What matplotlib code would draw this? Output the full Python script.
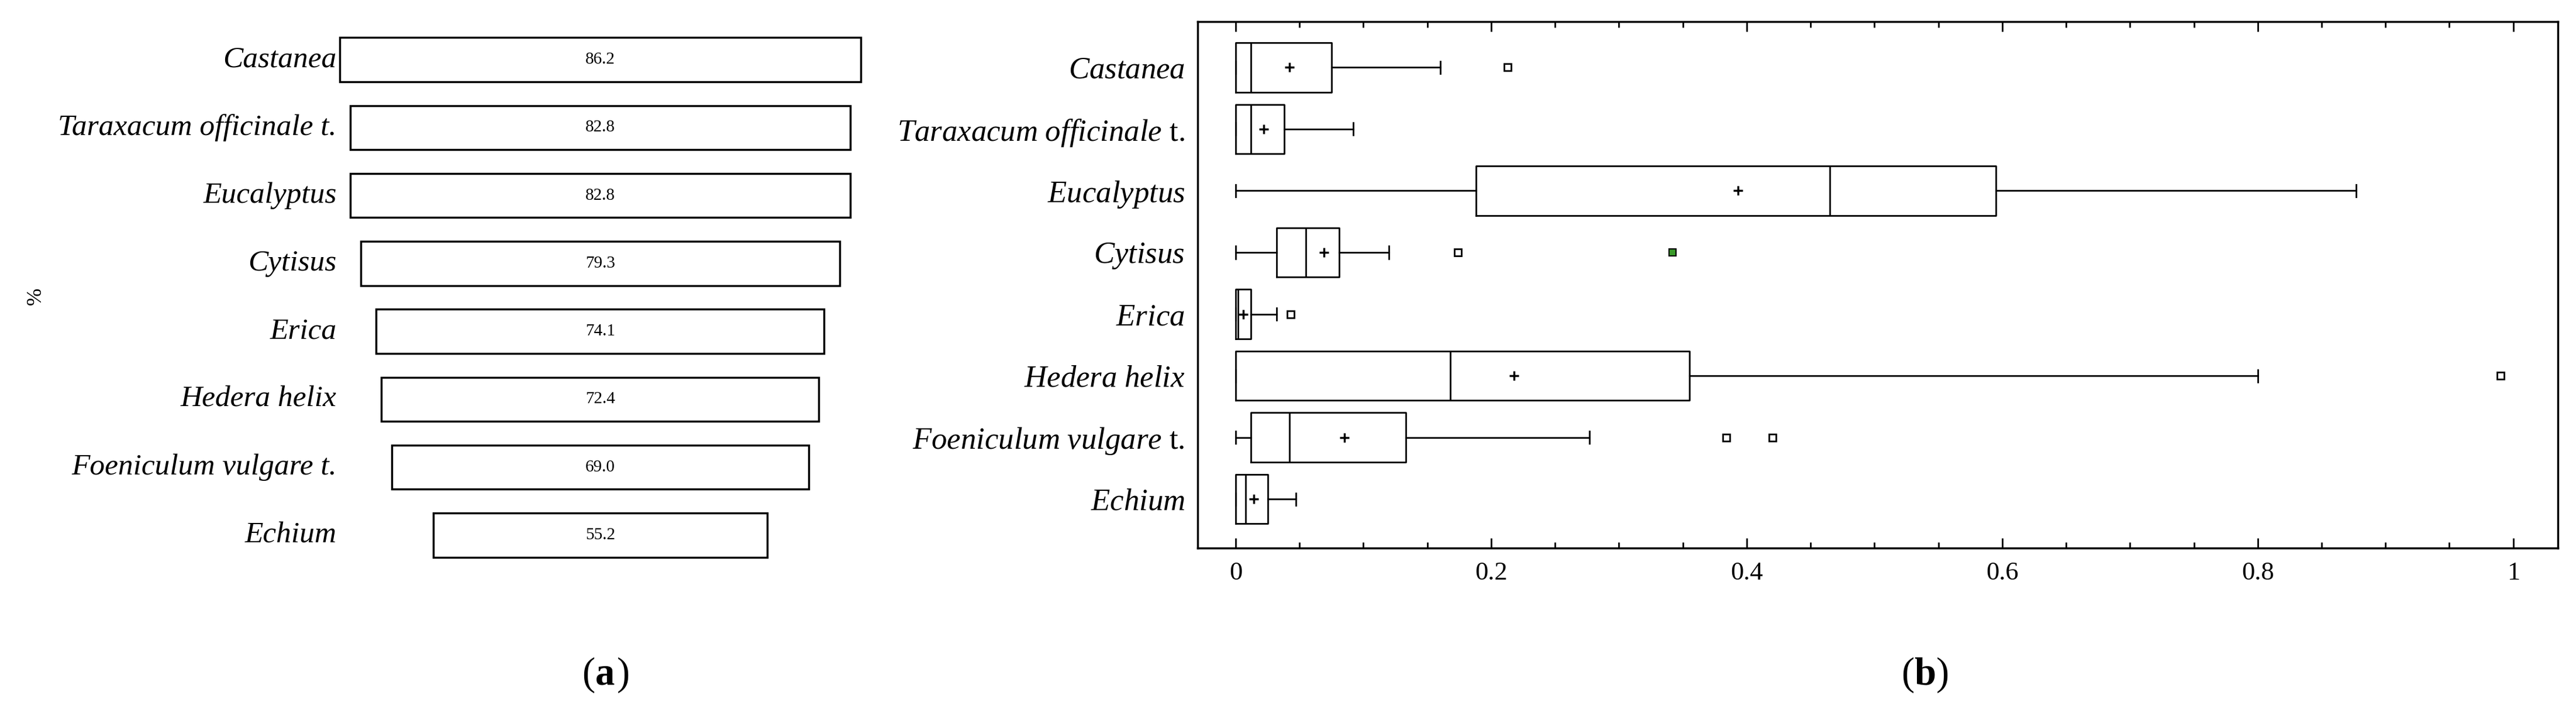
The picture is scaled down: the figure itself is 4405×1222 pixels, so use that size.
import matplotlib as mpl
mpl.use('Agg')
import matplotlib.pyplot as plt
from matplotlib.ticker import MultipleLocator

plt.rcParams['font.family'] = 'Liberation Serif'
plt.rcParams['mathtext.fontset'] = 'custom'
plt.rcParams['mathtext.it'] = 'Liberation Serif:italic'
plt.rcParams['mathtext.rm'] = 'Liberation Serif'

# panel (a): percentage of samples
taxa_a = ['Castanea', 'Taraxacum officinale t.', 'Eucalyptus', 'Cytisus',
          'Erica', 'Hedera helix', 'Foeniculum vulgare t.', 'Echium']
pct = [86.2, 82.8, 82.8, 79.3, 74.1, 72.4, 69.0, 55.2]

# panel (b): box statistics (whislo, q1, median, q3, whishi, mean, outliers)
labels_b = [r'$\it{Castanea}$', r'$\it{Taraxacum\ officinale}$ t.', r'$\it{Eucalyptus}$',
            r'$\it{Cytisus}$', r'$\it{Erica}$', r'$\it{Hedera\ helix}$',
            r'$\it{Foeniculum\ vulgare}$ t.', r'$\it{Echium}$']
whislo = [0, 0, 0, 0, 0, 0, 0, 0]
q1 = [0, 0, 0.188, 0.032, 0, 0, 0.012, 0]
med = [0.012, 0.012, 0.465, 0.055, 0.002, 0.168, 0.042, 0.008]
q3 = [0.075, 0.038, 0.595, 0.081, 0.012, 0.355, 0.133, 0.025]
whishi = [0.16, 0.092, 0.877, 0.12, 0.032, 0.80, 0.277, 0.047]
means = [0.042, 0.022, 0.393, 0.069, 0.006, 0.218, 0.085, 0.014]
fliers = [[0.213], [], [], [0.174], [0.043], [0.99], [0.384, 0.42], []]
green_x, green_row = 0.342, 3

fig = plt.figure(figsize=(44.05, 12.22), dpi=100)

# ---- (a)
ax1 = fig.add_axes([0.05, 0.203, 0.366, 0.761])
n = len(pct)
for i, v in enumerate(pct):
    ax1.barh(i, v, left=-v / 2, height=0.65, color='white', edgecolor='black', linewidth=2.5)
    ax1.text(0, i, f'{v:.1f}', ha='center', va='center', fontsize=21)
ax1.set_xlim(-78, 78)
ax1.set_ylim(n - 0.5, -0.5)
ax1.axis('off')
# labels right-aligned at a common x
for i, name in enumerate(taxa_a):
    ax1.text(0.1307, 0, name, transform=mpl.transforms.blended_transform_factory(fig.transFigure, ax1.transData),
             ha='right', va='center', fontsize=37, style='italic')
    ax1.texts[-1].set_y(i)
fig.text(0.014, 0.585, '%', rotation=90, fontsize=26, ha='center', va='center')
fig.text(0.231, 0.055, '(', fontsize=48, ha='right', va='center')
fig.text(0.231, 0.055, 'a', fontsize=48, ha='left', va='center', weight='bold')
fig.text(0.2395, 0.055, ')', fontsize=48, ha='left', va='center')

# ---- (b)
ax2 = fig.add_axes([0.465, 0.232, 0.528, 0.738])
stats = []
for i in range(n):
    stats.append(dict(whislo=whislo[i], q1=q1[i], med=med[i], q3=q3[i],
                      whishi=whishi[i], mean=means[i], fliers=fliers[i]))
pos = list(range(n, 0, -1))
ax2.bxp(stats, positions=pos, vert=False, widths=0.8, showmeans=True,
        capwidths=0.2,
        boxprops=dict(linewidth=2), medianprops=dict(color='black', linewidth=2),
        whiskerprops=dict(linewidth=2), capprops=dict(linewidth=2),
        meanprops=dict(marker='+', markeredgecolor='black', markersize=12, markeredgewidth=2.5),
        flierprops=dict(marker='s', markerfacecolor='white', markeredgecolor='black',
                        markersize=9, markeredgewidth=2))
ax2.plot([green_x], [pos[green_row]], 's', color='#3a9a2a', markeredgecolor='black',
         markersize=9, markeredgewidth=1.5)
ax2.set_yticks(pos)
ax2.set_yticklabels(labels_b, fontsize=38)
ax2.set_xlim(-0.0296, 1.035)
ax2.set_ylim(0.202, 8.745)
ax2.xaxis.set_minor_locator(MultipleLocator(0.05))
ax2.set_xticks([0, 0.2, 0.4, 0.6, 0.8, 1])
ax2.set_xticklabels(['0', '0.2', '0.4', '0.6', '0.8', '1'], fontsize=32)
ax2.tick_params(axis='x', which='both', direction='in', top=True, length=12, width=2, pad=16)
ax2.tick_params(axis='x', which='minor', length=7)
ax2.tick_params(axis='y', length=0, pad=16)
for s in ax2.spines.values():
    s.set_linewidth(2.5)
fig.text(0.743, 0.055, '(', fontsize=48, ha='right', va='center')
fig.text(0.743, 0.055, 'b', fontsize=48, ha='left', va='center', weight='bold')
fig.text(0.7515, 0.055, ')', fontsize=48, ha='left', va='center')

fig.savefig('out.png', dpi=100)
